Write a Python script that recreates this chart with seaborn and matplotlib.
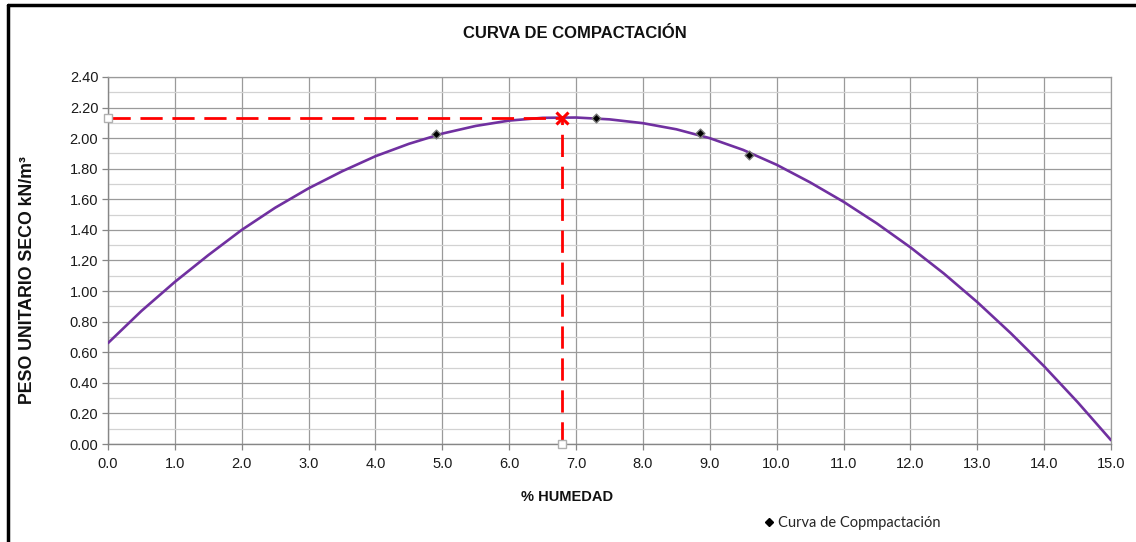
import matplotlib
matplotlib.use("Agg")
import matplotlib.pyplot as plt
import seaborn as sns
import pandas as pd
from matplotlib.lines import Line2D
from matplotlib.ticker import MultipleLocator, FormatStrFormatter

# ---- data ----
humedad_pts = [4.90, 7.30, 8.86, 9.59]
peso_pts = [2.025, 2.13, 2.036, 1.887]

curva_x = [0.0, 0.5, 1.0, 1.5, 2.0, 2.5, 3.0, 3.5, 4.0, 4.5, 5.0, 5.5, 6.0, 6.5,
           7.0, 7.5, 8.0, 8.5, 9.0, 9.5, 10.0, 10.5, 11.0, 11.5, 12.0, 12.5,
           13.0, 13.5, 14.0, 14.5, 15.0]
curva_y = [0.66, 0.87, 1.06, 1.235, 1.40, 1.545, 1.672, 1.783, 1.882, 1.963,
           2.030, 2.080, 2.115, 2.133, 2.135, 2.123, 2.098, 2.058, 2.000, 1.923,
           1.826, 1.711, 1.584, 1.442, 1.286, 1.115, 0.928, 0.725, 0.508, 0.274,
           0.025]

opt_humedad = 6.79
opt_peso = 2.135

titulo = "CURVA DE COMPACTACIÓN"
etiqueta_x = "% HUMEDAD"
etiqueta_y = "PESO UNITARIO SECO kN/m³"
etiqueta_serie = "Curva de Copmpactación"

sns.set_theme(style="white")
plt.rcParams['font.family'] = ['Liberation Sans', 'DejaVu Sans']

fig = plt.figure(figsize=(11.36, 5.42), dpi=100)
ax = fig.add_axes([108/1136, 1-444/542, (1111-108)/1136, (444-77)/542])

df_curva = pd.DataFrame({"x": curva_x, "y": curva_y})
df_pts = pd.DataFrame({"x": humedad_pts, "y": peso_pts})

# grid
ax.set_xlim(0, 15)
ax.set_ylim(0, 2.4)
ax.xaxis.set_major_locator(MultipleLocator(1.0))
ax.yaxis.set_major_locator(MultipleLocator(0.2))
ax.yaxis.set_minor_locator(MultipleLocator(0.1))
ax.xaxis.set_major_formatter(FormatStrFormatter("%.1f"))
ax.yaxis.set_major_formatter(FormatStrFormatter("%.2f"))
ax.grid(which="major", axis="both", color="#9a9a9a", linewidth=0.9)
ax.grid(which="minor", axis="y", color="#d2d2d2", linewidth=0.9)
ax.set_axisbelow(True)
for s in ["top", "right"]:
    ax.spines[s].set_color("#9a9a9a")
    ax.spines[s].set_linewidth(0.9)
for s in ["left", "bottom"]:
    ax.spines[s].set_color("#868686")
    ax.spines[s].set_linewidth(1.0)
ax.tick_params(axis="both", which="major", direction="out", length=4,
               width=0.9, color="#868686", labelsize=10.5, labelcolor="#1a1a1a",
               bottom=True, left=True)
ax.tick_params(axis="x", which="major", pad=5)
ax.tick_params(axis="y", which="major", pad=3)
ax.tick_params(axis="y", which="minor", length=0, left=False)

# curve
sns.lineplot(data=df_curva, x="x", y="y", ax=ax, color="#7030A0",
             linewidth=1.9, sort=False, zorder=3, legend=False,
             solid_joinstyle="round", solid_capstyle="round")

# red dashed guides
ax.plot([0, opt_humedad], [opt_peso, opt_peso], color="#FF0000", lw=2.0,
        dashes=(8, 3.5), zorder=4)
ax.plot([opt_humedad, opt_humedad], [0, opt_peso], color="#FF0000", lw=2.0,
        dashes=(8, 3.5), zorder=4)
ax.plot([opt_humedad], [opt_peso], marker="x", color="#FF0000",
        markersize=9, mew=2.2, zorder=6, clip_on=False)
ax.plot([0, opt_humedad], [opt_peso, 0], linestyle="none", marker="s",
        markersize=6, mfc="white", mec="#b0b0b0", mew=1.0, zorder=6, clip_on=False)

# data points
sns.scatterplot(data=df_pts, x="x", y="y", ax=ax, marker="D", s=20,
                color="black", edgecolor="#7a7a7a", linewidth=1.0, zorder=5,
                legend=False)

ax.set_xlabel("")
ax.set_ylabel("")

fig.text(575/1136, 1-33/542, titulo, ha="center", va="center",
         fontsize=12, fontweight="bold", color="#111111")
fig.text(567/1136, 1-497/542, etiqueta_x, ha="center", va="center",
         fontsize=10.5, fontweight="bold", color="#111111")
fig.text(28/1136, 1-280/542, etiqueta_y, ha="center", va="center",
         rotation=90, fontsize=12.8, fontweight="bold", color="#111111")

handle = Line2D([], [], linestyle="none", marker="D", markersize=4.5,
                color="black")
fig.legend([handle], [etiqueta_serie], loc="center left",
           bbox_to_anchor=(756/1136, 1-523/542), frameon=False,
           prop={"family": "Lato", "size": 10.5}, handletextpad=0.1,
           handlelength=1.0, borderaxespad=0)

# outer border (top and left edges of the chart frame)
fig.add_artist(Line2D([8/1136, 1.0], [1-5/542, 1-5/542], color="black",
                      lw=2.5, transform=fig.transFigure))
fig.add_artist(Line2D([8/1136, 8/1136], [0, 1-5/542], color="black",
                      lw=2.5, transform=fig.transFigure))

fig.savefig("out.png", dpi=100)
